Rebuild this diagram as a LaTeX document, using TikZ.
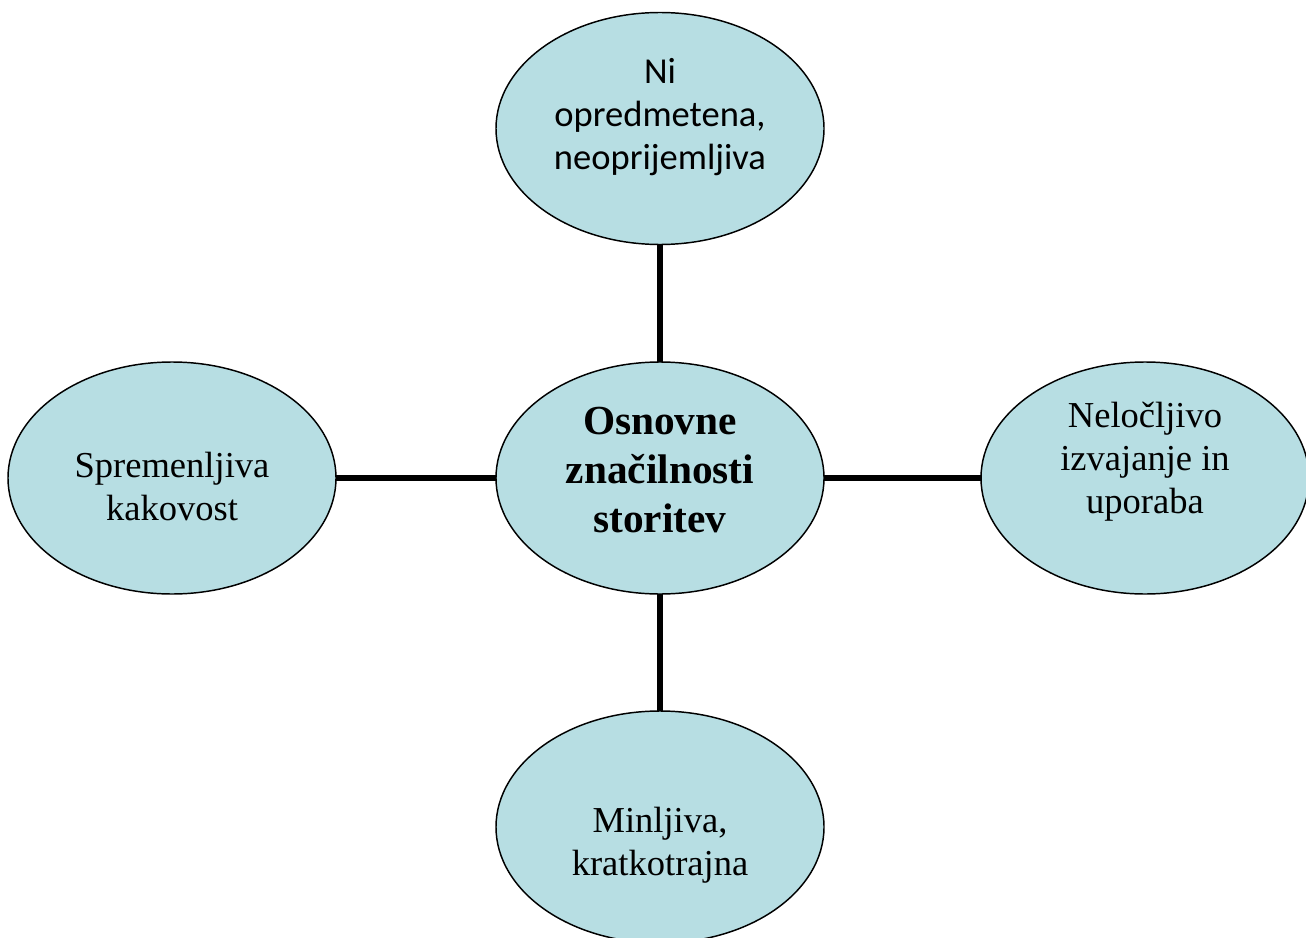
\documentclass[tikz,border=0pt]{standalone}
\usepackage{fontspec}
\setmainfont{Liberation Serif}
\newfontfamily\calibrifont{Carlito}
\usetikzlibrary{shapes.geometric}
\definecolor{bubblefill}{HTML}{B7DEE3}
\tikzset{
  bubble/.style={ellipse, draw=black, line width=1.1pt, fill=bubblefill,
    minimum width=328*0.75pt, minimum height=232*0.75pt, inner sep=0pt, outer sep=0pt},
  serifbody/.style={align=center, anchor=base,
    font=\fontsize{27.4pt}{32pt}\selectfont},
  sansbody/.style={align=center, anchor=base,
    font=\calibrifont\fontsize{27.4pt}{32.6pt}\selectfont},
  titlebody/.style={align=center, anchor=base,
    font=\bfseries\fontsize{31pt}{36.4pt}\selectfont},
  spoke/.style={line width=4pt, draw=black}
}
\begin{document}
\begin{tikzpicture}[x=0.75pt, y=-0.75pt]
  \useasboundingbox (0,0) rectangle (1306,938);
  \clip (0,0) rectangle (1306,938);
  % ellipses
  \node[bubble] (hub)    at (660,478) {};
  \node[bubble] (north)  at (660,128.5) {};
  \node[bubble] (west)   at (172,478) {};
  \node[bubble] (east)   at (1145,478) {};
  \node[bubble] (south)  at (660,827) {};
  % spokes
  \draw[spoke] (north.south) -- (hub.north);
  \draw[spoke] (hub.south) -- (south.north);
  \draw[spoke] (west.east) -- (hub.west);
  \draw[spoke] (hub.east) -- (east.west);
  % labels (anchored at the baseline of the last line)
  \node[titlebody] (hubtext) at (660,532) {Osnovne\\zna\v{c}ilnosti\\storitev};
  \node[sansbody] (northtext) at (660,170) {Ni\\opredmetena,\\neoprijemljiva};
  \node[serifbody] (westtext) at (172,520) {Spremenljiva\\kakovost};
  \node[serifbody] (easttext) at (1145,513) {Nelo\v{c}ljivo\\izvajanje in\\uporaba};
  \node[serifbody] (southtext) at (660,875) {Minljiva,\\kratkotrajna};
\end{tikzpicture}
\end{document}
